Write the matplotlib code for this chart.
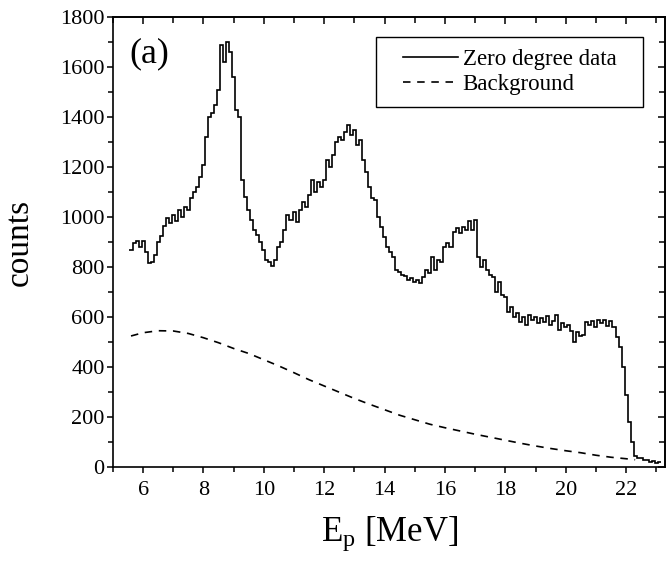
import numpy as np
import matplotlib
matplotlib.use("Agg")
import matplotlib.pyplot as plt
import matplotlib.ticker as ticker
from matplotlib.patches import Rectangle

plt.rcParams["font.family"] = ["Liberation Serif", "DejaVu Serif"]
plt.rcParams["mathtext.fontset"] = "custom"
plt.rcParams["mathtext.rm"] = "Liberation Serif"
plt.rcParams["mathtext.it"] = "Liberation Serif:italic"

# zero degree spectrum, 0.1 MeV bins, first bin centred at 5.6 MeV
bin_first = 5.6
bin_width = 0.1
zero_counts = [
    870, 895, 905, 880, 905, 860, 815, 820, 850, 900,      # 5.6 - 6.5
    925, 965, 995, 975, 1010, 985, 1030, 1000, 1040, 1030,  # 6.6 - 7.5
    1075, 1100, 1120, 1160, 1210, 1320, 1400, 1415, 1450, 1510,  # 7.6 - 8.5
    1690, 1620, 1700, 1660, 1560, 1430, 1400, 1150, 1080, 1030,  # 8.6 - 9.5
    990, 950, 930, 900, 870, 830, 820, 805, 830, 880,      # 9.6 - 10.5
    900, 950, 1010, 990, 1020, 980, 1030, 1060, 1040, 1090,  # 10.6 - 11.5
    1150, 1100, 1140, 1120, 1150, 1230, 1200, 1250, 1300, 1320,  # 11.6 - 12.5
    1310, 1340, 1370, 1330, 1350, 1290, 1310, 1230, 1180, 1120,  # 12.6 - 13.5
    1075, 1070, 1000, 960, 920, 880, 860, 840, 790, 780,   # 13.6 - 14.5
    770, 765, 750, 755, 740, 750, 735, 760, 790, 775,      # 14.6 - 15.5
    840, 790, 830, 820, 880, 895, 880, 940, 955, 935,      # 15.6 - 16.5
    960, 950, 985, 950, 990, 840, 800, 830, 790, 770,      # 16.6 - 17.5
    760, 700, 740, 690, 680, 620, 640, 600, 615, 580,      # 17.6 - 18.5
    600, 570, 610, 590, 600, 575, 595, 580, 605, 570,      # 18.6 - 19.5
    585, 610, 550, 575, 560, 570, 545, 500, 540, 525,      # 19.6 - 20.5
    530, 580, 570, 585, 560, 590, 575, 590, 565, 585,      # 20.6 - 21.5
    560, 520, 480, 400, 290, 180, 100, 45, 35, 38,         # 21.6 - 22.5
    28, 30, 22, 25, 18, 20,                                 # 22.6 - 23.1
]

# smooth background estimate
bg_energy = [5.6, 6.0, 6.5, 7.0, 7.5, 8.0, 8.5, 9.0, 9.5, 10.0, 10.5, 11.0,
             11.5, 12.0, 12.5, 13.0, 13.5, 14.0, 14.5, 15.0, 15.5, 16.0,
             16.5, 17.0, 17.5, 18.0, 18.5, 19.0, 19.5, 20.0, 20.5, 21.0,
             21.5, 22.0, 22.3]
bg_counts = [525, 538, 546, 545, 535, 518, 498, 475, 455, 430, 405, 378,
             350, 325, 300, 275, 252, 230, 208, 190, 172, 158,
             145, 132, 120, 108, 96, 85, 75, 66, 58, 48,
             40, 34, 30]

n_bins = len(zero_counts)
edges = bin_first - bin_width / 2 + bin_width * np.arange(n_bins + 1)

fig = plt.figure(figsize=(6.68, 5.74), dpi=100)
ax = fig.add_axes([0.169, 0.186, 0.827, 0.784])

ax.stairs(zero_counts, edges, color="black", lw=1.2, baseline=None)
ax.plot(bg_energy, bg_counts, color="black", lw=1.2, linestyle=(0, (4.5, 4)))

ax.set_xlim(5, 23.3)
ax.set_ylim(0, 1800)
ax.xaxis.set_major_locator(ticker.MultipleLocator(2))
ax.xaxis.set_minor_locator(ticker.MultipleLocator(1))
ax.yaxis.set_major_locator(ticker.MultipleLocator(200))
ax.yaxis.set_minor_locator(ticker.MultipleLocator(100))
ax.xaxis.set_major_formatter(ticker.FuncFormatter(lambda v, _: f"{v:g}" if v >= 6 else ""))

for sp in ax.spines.values():
    sp.set_linewidth(1.2)

ax.tick_params(which="both", direction="out", top=False, right=False,
               width=1.1, labelsize=16)
ax.tick_params(which="major", length=4)
ax.tick_params(which="minor", length=3.5)
ax.tick_params(axis="x", pad=6)
ax.tick_params(axis="y", pad=2)

# inward ticks on top and right, no labels
for side in ("top", "right"):
    sec = ax.secondary_xaxis("top") if side == "top" else ax.secondary_yaxis("right")
    axis = sec.xaxis if side == "top" else sec.yaxis
    axis.set_major_locator(ticker.MultipleLocator(2 if side == "top" else 200))
    axis.set_minor_locator(ticker.MultipleLocator(1 if side == "top" else 100))
    axis.set_major_formatter(ticker.NullFormatter())
    sec.tick_params(which="both", direction="in", width=1.1)
    sec.tick_params(which="major", length=5)
    sec.tick_params(which="minor", length=4)
    for sp in sec.spines.values():
        sp.set_linewidth(1.2)

ax.set_xlabel(r"E$_\mathrm{p}$ [MeV]", fontsize=25, labelpad=10)
ax.set_ylabel("counts", fontsize=24, labelpad=18)

ax.text(0.03, 0.955, "(a)", transform=ax.transAxes, fontsize=26,
        ha="left", va="top")

# legend box
ax.add_patch(Rectangle((0.477, 0.80), 0.483, 0.156, transform=ax.transAxes,
                       fill=False, edgecolor="black", lw=1.0, zorder=5))
ax.legend(["Zero degree data", "Background"], loc="center",
          bbox_to_anchor=(0.7185, 0.878), frameon=False, fontsize=16.5,
          handlelength=2.4, handletextpad=0.2, labelspacing=0.15,
          borderpad=0, borderaxespad=0)

fig.savefig("out.png", dpi=100)
